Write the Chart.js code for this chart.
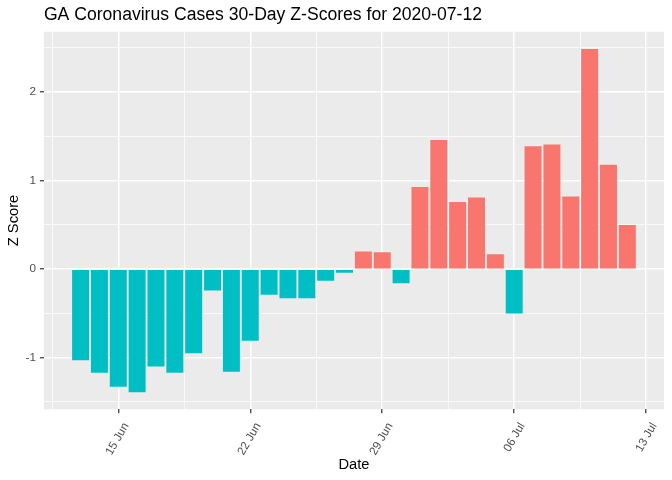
<!DOCTYPE html>
<html>
<head>
<meta charset="utf-8">
<script src="https://cdn.jsdelivr.net/npm/chart.js@4/dist/chart.umd.min.js"></script>
<style>
html, body { margin: 0; padding: 0; background: #fff; }
#wrap { width: 672px; height: 480px; }
</style>
</head>
<body>
<div id="wrap"><canvas id="chart" width="672" height="480"></canvas></div>
<script>
var dates = ['2020-06-13', '2020-06-14', '2020-06-15', '2020-06-16', '2020-06-17', '2020-06-18',
    '2020-06-19', '2020-06-20', '2020-06-21', '2020-06-22', '2020-06-23', '2020-06-24',
    '2020-06-25', '2020-06-26', '2020-06-27', '2020-06-28', '2020-06-29', '2020-06-30',
    '2020-07-01', '2020-07-02', '2020-07-03', '2020-07-04', '2020-07-05', '2020-07-06',
    '2020-07-07', '2020-07-08', '2020-07-09', '2020-07-10', '2020-07-11', '2020-07-12'];
var zScores = [-1.03, -1.17, -1.33, -1.39, -1.10, -1.17, -0.95, -0.24, -1.16, -0.81,
    -0.29, -0.33, -0.33, -0.13, -0.04, 0.20, 0.19, -0.16, 0.93, 1.46,
    0.76, 0.81, 0.17, -0.50, 1.39, 1.41, 0.82, 2.49, 1.18, 0.50];
var tickDates = ['2020-06-15', '2020-06-22', '2020-06-29', '2020-07-06', '2020-07-13'];
var tickLabels = ['15 Jun', '22 Jun', '29 Jun', '06 Jul', '13 Jul'];
var yTicks = [-1, 0, 1, 2];

var posColor = '#F8766D';
var negColor = '#00BFC4';

function dayOf(d) {
    return (Date.parse(d) - Date.parse(tickDates[0])) / 86400000;
}

var points = dates.map(function(d, i) {
    return { x: dayOf(d), y: zScores[i] };
});

// ggplot style 5% expansion around the bars
var xLo = points[0].x - 0.45, xHi = points[points.length - 1].x + 0.45;
var xPad = (xHi - xLo) * 0.05;
var yLo = Math.min.apply(null, zScores.concat([0])), yHi = Math.max.apply(null, zScores.concat([0]));
var yPad = (yHi - yLo) * 0.05;

function isMajorX(v) {
    return tickDates.some(function(d) { return Math.abs(dayOf(d) - v) < 1e-6; });
}
function isMajorY(v) {
    return yTicks.some(function(t) { return Math.abs(t - v) < 1e-6; });
}

var panelBg = {
    id: 'panelBg',
    beforeDraw: function(c) {
        var a = c.chartArea, ctx = c.ctx;
        ctx.save();
        ctx.fillStyle = '#fff';
        ctx.fillRect(0, 0, c.width, c.height);
        ctx.fillStyle = '#EBEBEB';
        ctx.fillRect(a.left, a.top, a.right - a.left, a.bottom - a.top);
        ctx.restore();
    }
};

var chart = new Chart(document.getElementById('chart'), {
    type: 'bar',
    data: {
        datasets: [{
            data: points,
            backgroundColor: function(ctx) {
                var v = ctx.raw ? ctx.raw.y : 0;
                return v >= 0 ? posColor : negColor;
            },
            borderWidth: 0,
            barPercentage: 0.9,
            categoryPercentage: 1.0
        }]
    },
    options: {
        responsive: false,
        animation: false,
        devicePixelRatio: 1,
        layout: { padding: { left: 0, right: 8, top: 0, bottom: 0 } },
        plugins: {
            legend: { display: false },
            tooltip: { enabled: false },
            title: {
                display: true,
                text: 'GA Coronavirus Cases 30-Day Z-Scores for 2020-07-12',
                align: 'start',
                fullSize: false,
                color: '#000',
                font: { family: 'Liberation Sans, Arial, sans-serif', size: 17.6, weight: 'normal' },
                padding: { top: 5, bottom: 5.6 }
            }
        },
        scales: {
            x: {
                type: 'linear',
                offset: false,
                min: xLo - xPad,
                max: xHi + xPad,
                afterFit: function(s) { s.height = 70.7; s.paddingLeft = 0; s.paddingRight = 0; },
                afterBuildTicks: function(s) {
                    s.ticks = s.ticks.filter(function(t) { return t.value > s.min && t.value < s.max; });
                },
                ticks: {
                    stepSize: 3.5,
                    includeBounds: false,
                    autoSkip: false,
                    minRotation: 60,
                    maxRotation: 60,
                    padding: 7,
                    labelOffset: 8,
                    color: '#4D4D4D',
                    font: { family: 'Liberation Sans, Arial, sans-serif', size: 11.7 },
                    callback: function(v) {
                        for (var i = 0; i < tickDates.length; i++) {
                            if (Math.abs(dayOf(tickDates[i]) - v) < 1e-6) return tickLabels[i];
                        }
                        return '';
                    }
                },
                grid: {
                    offset: false,
                    color: '#fff',
                    lineWidth: function(ctx) { return ctx.tick && isMajorX(ctx.tick.value) ? 1.5 : 0.75; },
                    tickColor: function(ctx) { return ctx.tick && isMajorX(ctx.tick.value) ? '#333333' : 'rgba(0,0,0,0)'; },
                    tickWidth: 1.2,
                    tickLength: 4
                },
                border: { display: false },
                title: {
                    display: true,
                    text: 'Date',
                    color: '#000',
                    font: { family: 'Liberation Sans, Arial, sans-serif', size: 14.7 },
                    padding: { top: 0, bottom: 6 }
                }
            },
            y: {
                type: 'linear',
                min: yLo - yPad,
                max: yHi + yPad,
                afterFit: function(s) { s.width = 43.9; s.paddingTop = 0; s.paddingBottom = 0; },
                ticks: {
                    stepSize: 0.5,
                    includeBounds: false,
                    padding: 4,
                    color: '#4D4D4D',
                    font: { family: 'Liberation Sans, Arial, sans-serif', size: 11.7 },
                    callback: function(v) { return isMajorY(v) ? String(v) : ''; }
                },
                grid: {
                    color: '#fff',
                    lineWidth: function(ctx) { return ctx.tick && isMajorY(ctx.tick.value) ? 1.5 : 0.75; },
                    tickColor: function(ctx) { return ctx.tick && isMajorY(ctx.tick.value) ? '#333333' : 'rgba(0,0,0,0)'; },
                    tickWidth: 1.2,
                    tickLength: 4
                },
                border: { display: false },
                title: {
                    display: true,
                    text: 'Z Score',
                    color: '#000',
                    font: { family: 'Liberation Sans, Arial, sans-serif', size: 14.7 },
                    padding: { top: 5, bottom: 0 }
                }
            }
        }
    },
    plugins: [panelBg]
});
</script>
</body>
</html>
